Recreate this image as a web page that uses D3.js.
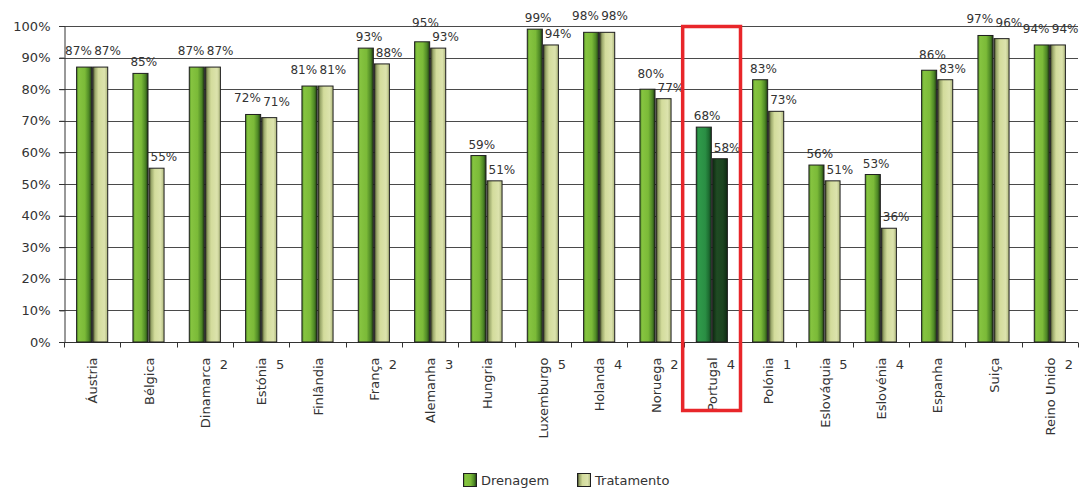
<!DOCTYPE html>
<html>
<head>
<meta charset="utf-8">
<script src="https://cdn.jsdelivr.net/npm/d3@7"></script>
<style>
  html, body { margin: 0; padding: 0; background: #fff; }
  svg { display: block; font-family: "DejaVu Sans", Verdana, sans-serif; }
</style>
</head>
<body>
<svg id="chart" width="1086" height="491"></svg>
<script>
// Coverage of wastewater drainage and treatment by country (%)
const categories = ["Áustria", "Bélgica", "Dinamarca", "Estónia", "Finlândia", "França",
  "Alemanha", "Hungria", "Luxemburgo", "Holanda", "Noruega", "Portugal", "Polónia",
  "Eslováquia", "Eslovénia", "Espanha", "Suiça", "Reino Unido"];
const footnotes = ["", "", "2", "5", "", "2", "3", "", "5", "4", "2", "4", "1", "5", "4", "", "", "2"];
const drenagem = [87, 85, 87, 72, 81, 93, 95, 59, 99, 98, 80, 68, 83, 56, 53, 86, 97, 94];
const tratamento = [87, 55, 87, 71, 81, 88, 93, 51, 94, 98, 77, 58, 73, 51, 36, 83, 96, 94];
const seriesNames = ["Drenagem", "Tratamento"];
const yTicks = [0, 10, 20, 30, 40, 50, 60, 70, 80, 90, 100];
const highlighted = "Portugal";

const svg = d3.select("#chart");
const plot = { left: 64, right: 1078, top: 26, bottom: 342 };
const textColor = "#333";

// Bar fills: horizontal shading
const defs = svg.append("defs");
function gradient(id, stops) {
  const g = defs.append("linearGradient").attr("id", id)
    .attr("x1", 0).attr("x2", 1).attr("y1", 0).attr("y2", 0);
  stops.forEach(([o, c]) => g.append("stop").attr("offset", o).attr("stop-color", c));
}
gradient("g-dren", [[0, "#4f8c24"], [0.14, "#86c440"], [0.55, "#7bba38"], [0.82, "#4d8725"], [1, "#1f3812"]]);
gradient("g-trat", [[0, "#373c20"], [0.16, "#9ba86b"], [0.38, "#d3dc9c"], [0.78, "#dce3ad"], [1, "#aeb77c"]]);
gradient("g-dren-hl", [[0, "#17602b"], [0.15, "#2f9a4a"], [0.6, "#2a8e44"], [0.85, "#1c6a30"], [1, "#0f3a18"]]);
gradient("g-trat-hl", [[0, "#0c260f"], [0.3, "#1f4b23"], [0.7, "#1c4420"], [1, "#0e2a12"]]);

const x = d3.scaleBand().domain(categories)
  .range([plot.left, plot.right]).paddingInner(0.43).paddingOuter(0.215);
const xs = d3.scaleBand().domain(seriesNames).range([0, x.bandwidth()]);
const y = d3.scaleLinear().domain([0, 100]).range([plot.bottom, plot.top]);

// Gridlines
svg.append("g").selectAll("line").data(yTicks.filter(d => d > 0)).join("line")
  .attr("x1", plot.left - 5).attr("x2", plot.right)
  .attr("y1", d => Math.round(y(d)) + 0.5).attr("y2", d => Math.round(y(d)) + 0.5)
  .attr("stroke", "#4a4a4a").attr("stroke-width", 1);

// Y axis
const yAxis = svg.append("g").attr("transform", `translate(${plot.left + 0.5},0)`)
  .call(d3.axisLeft(y).tickValues(yTicks).tickFormat(d => d + "%").tickSize(5).tickPadding(9));
yAxis.select(".domain").attr("stroke", "#333");
yAxis.selectAll(".tick line").attr("stroke", "#333");
yAxis.selectAll("text").attr("font-size", 13).attr("fill", textColor)
  .attr("font-family", "DejaVu Sans, sans-serif");

// X axis line and category boundary ticks
const base = Math.round(y(0)) + 0.5;
svg.append("line").attr("x1", plot.left - 5).attr("x2", plot.right)
  .attr("y1", base).attr("y2", base).attr("stroke", "#333");
const bounds = d3.range(categories.length + 1).map(i => x.range()[0] + i * x.step());
svg.append("g").selectAll("line").data(bounds).join("line")
  .attr("x1", d => Math.round(d) + 0.5).attr("x2", d => Math.round(d) + 0.5)
  .attr("y1", base).attr("y2", base + 5).attr("stroke", "#333");

// Bars
const rows = categories.map((c, i) => ({ c, vals: [drenagem[i], tratamento[i]], note: footnotes[i] }));
const groups = svg.append("g").selectAll("g").data(rows).join("g")
  .attr("transform", d => `translate(${x(d.c)},0)`);

groups.selectAll("rect").data(d => d.vals.map((v, k) => ({ c: d.c, v, k }))).join("rect")
  .attr("x", d => xs(seriesNames[d.k]) + 0.5)
  .attr("width", xs.bandwidth() - 1)
  .attr("y", d => y(d.v))
  .attr("height", d => y(0) - y(d.v))
  .attr("fill", d => {
    const hl = d.c === highlighted ? "-hl" : "";
    return `url(#${d.k === 0 ? "g-dren" : "g-trat"}${hl})`;
  })
  .attr("stroke", "#1e1e1e").attr("stroke-width", 1);

// Value labels; pairs of near-equal values are spread apart or lifted so they stay readable
groups.each(function (d) {
  const g = d3.select(this);
  const diff = Math.abs(d.vals[0] - d.vals[1]);
  const sideBySide = diff <= 1;
  const stacked = !sideBySide && diff <= 3;
  d.vals.forEach((v, k) => {
    const bx = xs(seriesNames[k]);
    let dx = k === 0 ? -2 : 2;
    let gap = 7;
    if (sideBySide) {
      gap = 12;
      if (k === 0) dx = -11;
    } else if (stacked && k === 0) {
      gap = 7 + (4 - diff) * 4;
    }
    g.append("text")
      .attr("x", bx + dx)
      .attr("y", y(v) - gap)
      .attr("font-size", 12).attr("fill", textColor)
      .text(v + "%");
  });
});

// Category labels (rotated) with footnote numbers
const labels = svg.append("g");
rows.forEach(d => {
  const cx = x(d.c) + x.bandwidth() / 2;
  labels.append("text")
    .attr("transform", `translate(${cx + 5},${base + 15}) rotate(-90)`)
    .attr("text-anchor", "end")
    .attr("font-size", 13).attr("fill", textColor)
    .text(d.c);
  if (d.note) {
    labels.append("text")
      .attr("x", cx + 19).attr("y", base + 26)
      .attr("text-anchor", "middle")
      .attr("font-size", 13).attr("fill", textColor)
      .text(d.note);
  }
});

// Highlight frame around Portugal
const hx = x(highlighted) - x.step() * x.paddingInner() / 2;
svg.append("rect")
  .attr("x", hx - 1).attr("y", y(100) + 0.5)
  .attr("width", x.step() + 1.5).attr("height", 410 - y(100))
  .attr("fill", "none").attr("stroke", "#e8262a").attr("stroke-width", 3.5);

// Legend
const legend = svg.append("g");
const legendItems = [
  { name: seriesNames[0], fill: "url(#g-dren)", x: 463 },
  { name: seriesNames[1], fill: "url(#g-trat)", x: 577 }
];
legendItems.forEach(it => {
  legend.append("rect").attr("x", it.x + 0.5).attr("y", 473.5).attr("width", 13).attr("height", 13)
    .attr("fill", it.fill).attr("stroke", "#1e1e1e");
  legend.append("text").attr("x", it.x + 18).attr("y", 485)
    .attr("font-size", 13).attr("fill", textColor).text(it.name);
});
</script>
</body>
</html>
